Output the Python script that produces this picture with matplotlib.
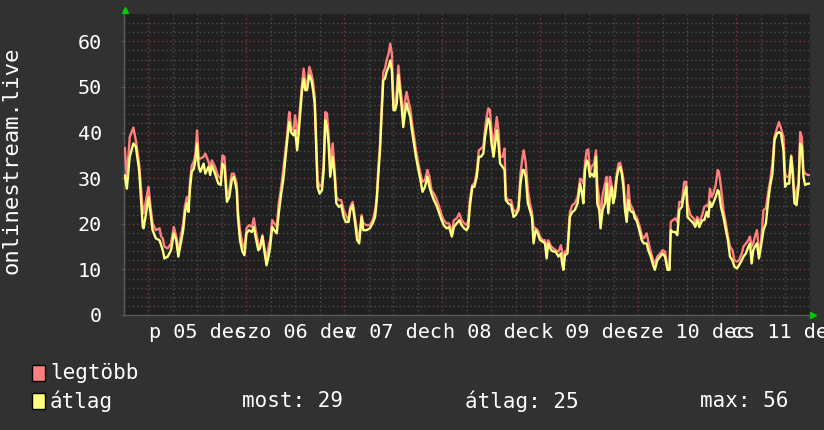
import matplotlib
matplotlib.use("Agg")
import numpy as np
import matplotlib.pyplot as plt
from matplotlib.patches import Rectangle

# hours since the left edge of the graph (04 dec ~18:00)
hours = [0.2, 0.7, 1.4, 2.3, 2.9, 3.7, 4.6, 4.8, 5.4, 6.0, 6.6, 7.0, 7.8, 8.7, 9.1, 9.5, 9.9, 10.7,
         11.5, 12.2, 12.8, 13.3, 13.9, 14.5, 14.9, 15.4, 15.8, 16.2, 16.6, 17.1, 17.5, 17.9, 18.3,
         18.7, 19.5, 19.9, 20.7, 21.1, 21.5, 22.3, 23.1, 23.7, 24.1, 24.6, 25.2, 25.8, 26.4, 26.9,
         27.6, 27.9, 28.4, 29.0, 29.5, 30.0, 30.6, 31.3, 31.8, 32.3, 32.9, 33.3, 33.9, 34.4, 34.9,
         35.4, 35.8, 36.3, 36.8, 37.4, 37.9, 38.5, 39.0, 39.4, 39.9, 40.3, 40.5, 40.9, 41.5, 41.9,
         42.4, 42.7, 43.2, 43.6, 44.0, 44.4, 44.8, 45.4, 45.9, 46.3, 46.7, 47.0, 47.4, 47.9, 48.5,
         48.9, 49.3, 49.7, 50.1, 50.5, 51.1, 51.6, 52.0, 52.6, 53.2, 53.8, 54.3, 55.0, 55.4, 56.0,
         56.6, 57.1, 57.6, 58.2, 58.6, 59.4, 60.2, 60.9, 61.5, 61.9, 62.3, 62.7, 63.1, 63.5, 63.9,
         64.3, 64.8, 65.2, 65.6, 66.0, 66.4, 66.8, 67.2, 67.6, 68.0, 68.4, 68.8, 69.2, 69.6, 70.1,
         70.5, 71.0, 71.5, 72.1, 72.6, 73.1, 73.7, 74.3, 74.8, 75.3, 75.9, 76.5, 77.2, 77.8, 78.3,
         79.0, 79.6, 80.3, 80.8, 81.5, 82.1, 82.7, 83.3, 83.9, 84.3, 84.7, 85.3, 85.8, 86.4, 86.9,
         87.4, 88.0, 88.4, 88.8, 89.2, 89.6, 90.0, 90.5, 90.9, 91.3, 91.7, 92.1, 92.7, 93.2, 93.5,
         94.1, 94.8, 95.4, 95.9, 96.6, 97.1, 97.6, 97.9, 98.4, 98.9, 99.4, 99.9, 100.3, 100.8,
         101.3, 101.9, 102.5, 103.1, 103.5, 103.9, 104.6, 105.2, 105.7, 106.4, 107.0, 107.3, 107.6,
         108.0, 108.6, 109.2, 109.8, 110.4, 111.1, 111.7, 112.1, 112.5, 112.9, 113.3, 113.7, 114.1,
         114.5, 115.1, 115.6, 115.9, 116.4, 116.7, 117.2, 117.8, 118.2, 118.6, 119.0, 119.4, 119.8,
         120.2, 120.7, 121.1, 121.5, 121.9, 122.3, 122.7, 123.1, 123.5, 123.9, 124.3, 124.7, 125.1,
         125.5, 126.2, 126.8, 127.3, 128.0, 128.4, 129.0, 129.6, 130.0, 130.6, 131.3, 131.9, 132.5,
         133.1, 133.6, 133.9, 134.4, 135.0, 135.5, 136.0, 136.6, 137.2, 137.7, 138.0, 138.7, 139.5,
         139.9, 140.4, 140.9, 141.6, 142.1, 142.7, 143.1, 143.5, 143.9, 144.3, 144.9, 145.4, 145.7,
         146.2, 146.8, 147.4, 147.9, 148.4, 149.0, 149.5, 150.1, 150.6, 151.3, 151.7, 152.3, 152.9,
         153.3, 153.7, 154.1, 154.5, 155.0, 155.5, 156.0, 156.6, 157.2, 157.7, 158.2, 158.8, 159.3,
         159.9, 160.4, 160.9, 161.5, 161.9, 162.3, 162.9, 163.4, 163.8, 164.2, 164.7, 165.2, 165.6,
         166.0, 166.4, 166.8, 167.5, 168.0]

atlag = [30.6, 27.7, 34.7, 37.6, 36.9, 31.8, 19.3, 19.0, 22.3, 25.9, 21.5, 18.6, 16.8, 16.4, 15.3, 14.2, 12.4, 12.8,
         14.2, 17.9, 16.4, 12.8, 15.7, 18.6, 22.3, 24.5, 22.6, 28.1, 31.4, 32.1, 33.9, 37.6, 32.5,
         31.4, 33.2, 31.0, 32.5, 30.7, 32.8, 31.0, 28.8, 28.5, 33.2, 32.5, 24.8, 25.9, 29.6, 30.3,
         27.4, 21.5, 16.4, 13.9, 13.1, 17.9, 18.6, 18.2, 19.3, 16.8, 14.2, 14.6, 17.2, 13.9, 10.9,
         12.8, 15.0, 19.3, 18.6, 17.9, 22.3, 26.6, 29.6, 33.2, 37.6, 41.2, 42.3, 40.1, 39.4, 40.5,
         36.1, 39.0, 44.9, 49.3, 51.8, 49.3, 49.3, 52.6, 51.5, 49.3, 46.4, 38.3, 28.1, 26.6, 27.4,
         31.8, 42.7, 41.2, 37.6, 30.3, 34.7, 30.3, 24.5, 23.7, 24.1, 21.5, 20.4, 20.4, 23.0, 24.1,
         20.1, 16.4, 15.7, 21.5, 18.6, 18.6, 19.0, 20.1, 21.5, 25.2, 31.0, 36.1, 44.2, 51.5, 51.8,
         53.3, 54.4, 55.8, 53.6, 44.9, 44.9, 46.4, 52.6, 48.9, 45.6, 41.2, 44.2, 46.4, 44.9, 43.4,
         40.5, 37.6, 34.7, 31.8, 29.6, 27.0, 28.1, 30.3, 28.1, 26.6, 25.2, 24.1, 22.3, 20.8, 19.7,
         19.0, 19.3, 17.2, 19.3, 20.1, 20.8, 19.7, 19.0, 18.6, 19.3, 23.7, 28.1, 28.1, 30.3, 34.7,
         34.7, 35.4, 39.0, 41.2, 43.1, 42.0, 37.6, 34.7, 37.6, 40.5, 37.6, 33.2, 32.5, 31.8, 25.2,
         24.5, 24.1, 21.5, 21.9, 23.0, 28.8, 31.8, 31.8, 30.3, 24.5, 23.0, 21.5, 15.7, 18.6,
         17.9, 16.4, 16.1, 15.7, 12.4, 15.7, 14.2, 13.9, 13.9, 12.8, 13.5, 11.3, 9.9,
         13.1, 13.5, 21.5, 22.6, 23.0, 24.5, 28.8, 27.0, 24.5, 31.8, 33.9, 33.2, 30.3,
         31.0, 30.3, 34.7, 24.5, 23.0, 19.0, 23.0, 24.5, 28.8, 22.3, 25.9, 28.1, 24.5,
         25.9, 30.3, 31.8, 32.5, 31.0, 28.1, 23.0, 20.4, 25.2, 23.0, 22.6, 22.6, 21.2,
         20.8, 18.6, 16.4, 15.7, 15.7, 14.2, 12.8, 10.9, 9.9, 12.0, 12.8, 13.5, 12.8,
         9.9, 9.9, 18.6, 18.2, 18.2, 17.5, 23.0, 23.7, 26.6, 28.1, 21.5, 20.8, 20.1,
         19.3, 20.8, 19.3, 20.8, 20.8, 22.6, 21.5, 24.8, 23.7, 24.5, 25.9, 27.4, 27.0,
         23.7, 21.5, 18.6, 16.4, 12.8, 12.0, 10.6, 10.2, 10.9, 12.0, 12.8, 13.5, 15.0,
         15.7, 11.3, 14.2, 15.0, 15.7, 12.4, 15.0, 18.6, 20.1, 24.5, 28.1, 31.0, 38.3,
         39.8, 40.1, 39.8, 36.1, 28.1, 28.8, 28.8, 34.7, 30.3, 24.5, 24.1, 28.1, 37.6,
         36.9, 30.3, 28.5, 28.8, 28.8]

legtobb = [36.6, 30.0, 39.0, 41.1, 38.3, 33.2, 23.0, 22.3, 25.2, 28.1, 23.0, 20.1, 18.6, 19.0, 17.2, 16.8, 15.0, 14.6,
           15.7, 19.3, 17.2, 13.9, 17.2, 20.1, 23.7, 25.9, 24.1, 29.6, 32.8, 33.6, 35.4, 40.5, 34.3,
           34.3, 34.7, 35.4, 33.6, 32.1, 33.9, 32.5, 30.3, 30.0, 35.0, 34.7, 26.3, 27.4, 31.0, 31.0,
           28.8, 23.0, 18.6, 15.7, 14.6, 19.0, 19.7, 19.3, 21.2, 18.2, 15.7, 15.0, 17.5, 14.6, 12.0,
           15.0, 16.4, 20.8, 20.1, 19.3, 24.5, 28.1, 31.8, 35.0, 39.0, 43.1, 44.5, 41.2, 40.5, 43.8,
           39.8, 41.2, 46.4, 50.7, 54.0, 50.7, 50.4, 54.4, 52.9, 51.1, 47.8, 40.5, 29.6, 28.1, 28.8,
           33.2, 44.5, 44.2, 39.8, 33.2, 37.6, 31.8, 25.9, 25.2, 25.2, 23.0, 21.9, 20.8, 23.7, 24.8,
           21.2, 18.2, 17.2, 21.9, 20.1, 19.7, 19.7, 20.8, 23.0, 25.9, 32.5, 37.6, 45.6, 53.3, 54.0,
           55.8, 57.3, 59.5, 57.3, 46.0, 45.6, 49.3, 54.7, 50.7, 47.4, 43.4, 46.7, 48.9, 47.1, 45.3,
           42.3, 39.4, 36.1, 33.2, 31.0, 29.2, 29.6, 31.8, 30.3, 27.4, 26.6, 25.5, 23.7, 21.9, 20.8,
           20.1, 20.1, 18.2, 20.8, 21.2, 22.3, 20.8, 20.1, 19.7, 20.8, 25.2, 28.5, 28.8, 31.4, 36.1,
           36.5, 36.9, 40.5, 43.4, 45.3, 45.0, 40.5, 36.9, 40.5, 43.4, 40.5, 34.7, 34.7, 36.5, 25.9,
           25.2, 25.2, 23.0, 22.6, 23.7, 31.0, 34.7, 36.1, 33.2, 27.4, 24.5, 22.6, 19.3, 19.0,
           18.6, 17.2, 16.4, 16.4, 14.2, 16.4, 15.0, 14.6, 14.2, 13.9, 15.3, 13.9, 12.0,
           13.9, 14.2, 22.6, 24.1, 24.5, 25.9, 29.9, 29.6, 28.8, 33.2, 36.1, 36.3, 31.4,
           32.5, 33.2, 36.1, 28.8, 25.2, 20.4, 26.3, 28.8, 30.3, 24.5, 30.3, 28.5, 25.9,
           27.7, 31.0, 33.2, 33.4, 31.8, 29.6, 24.5, 21.9, 28.5, 24.5, 23.7, 23.0, 21.9,
           21.5, 19.7, 17.5, 16.8, 17.9, 16.1, 13.9, 12.0, 11.3, 12.8, 13.5, 14.2, 13.9,
           10.2, 10.2, 20.4, 20.8, 21.2, 20.4, 24.8, 24.8, 29.2, 29.2, 24.5, 21.9, 21.2,
           20.4, 21.5, 20.4, 21.9, 23.7, 24.1, 23.7, 27.7, 25.9, 26.6, 28.5, 31.8, 31.4,
           28.1, 23.0, 20.1, 17.2, 15.0, 14.2, 12.0, 11.7, 12.0, 13.5, 15.0, 15.7, 16.4,
           17.2, 15.0, 15.7, 17.2, 18.6, 14.2, 15.7, 23.0, 23.4, 26.6, 29.2, 33.2, 39.0,
           40.9, 42.3, 40.9, 39.0, 31.0, 30.3, 30.3, 35.0, 31.8, 25.2, 27.4, 28.8, 40.1,
           39.0, 31.8, 31.0, 30.7, 30.7]

day_labels = ["p 05 dec", "szo 06 dec", "v 07 dec", "h 08 dec", "k 09 dec", "sze 10 dec", "cs 11 dec"]
label_hours = [18, 42, 66, 90, 114, 138, 162]
y_ticks = [0, 10, 20, 30, 40, 50, 60]
series_names = ["legtöbb", "átlag"]
series_colors = ["#ff7f7f", "#ffff7f"]
stats_text = ["most: 29", "átlag: 25", "max: 56"]

W, H = 824, 430
fig = plt.figure(figsize=(W / 100, H / 100), dpi=100, facecolor="#313131")
ax = fig.add_axes([124 / W, 1 - 315 / H, 686 / W, 301 / H])
ax.set_facecolor("#202020")

mono = "DejaVu Sans Mono"

# grid: 2-unit / 6-hour dotted gray, 10-unit / day dotted red
for v in np.arange(2, 66, 2):
    c = "#7a3c3c" if v % 10 == 0 else "#4e4e4e"
    ax.axhline(v, color=c, lw=1, ls=(0, (1, 2)), zorder=1)
for h in np.arange(0, 168, 6):
    c = "#7a3c3c" if h % 24 == 6 else "#4e4e4e"
    ax.axvline(h, color=c, lw=1, ls=(0, (1, 2)), zorder=1)

ax.plot(hours, legtobb, color=series_colors[0], lw=1.7, zorder=3)
ax.plot(hours, atlag, color=series_colors[1], lw=1.7, zorder=4)

ax.set_xlim(0, 168)
ax.set_ylim(0, 66)
for s in ["top", "right"]:
    ax.spines[s].set_visible(False)
for s in ["left", "bottom"]:
    ax.spines[s].set_color("#5a5a5a")
    ax.spines[s].set_linewidth(1)

ax.set_yticks(y_ticks)
ax.set_yticklabels([str(t) for t in y_ticks], family=mono, fontsize=14.5, color="white")
ax.set_xticks(label_hours)
ax.set_xticklabels(day_labels, family=mono, fontsize=14.5, color="white")
ax.tick_params(axis="y", length=2, color="#5a5a5a", pad=14)
ax.tick_params(axis="x", length=0, pad=6)

# green axis arrows
ax.plot([0.0015], [1.014], marker="^", color="#00cc00", ms=5, transform=ax.transAxes, clip_on=False)
ax.plot([1.005], [0.0], marker=">", color="#00cc00", ms=5, transform=ax.transAxes, clip_on=False)

fig.text(12 / W, 1 - 160 / H, "onlinestream.live", rotation=90, family=mono, fontsize=16,
         color="white", ha="center", va="center")

# legend
for i, (name, col) in enumerate(zip(series_names, series_colors)):
    yc = 373 + i * 28
    fig.add_artist(Rectangle((32 / W, 1 - (yc + 8) / H), 13 / W, 16 / H, transform=fig.transFigure,
                             facecolor=col, edgecolor="black", lw=1))
    fig.text(50 / W, 1 - yc / H, name, family=mono, fontsize=15, color="white", va="center")

for x0, txt in zip([242, 465, 700], stats_text):
    fig.text(x0 / W, 1 - 401 / H, txt, family=mono, fontsize=15, color="white", va="center")

fig.savefig("out.png", dpi=100, facecolor=fig.get_facecolor())
